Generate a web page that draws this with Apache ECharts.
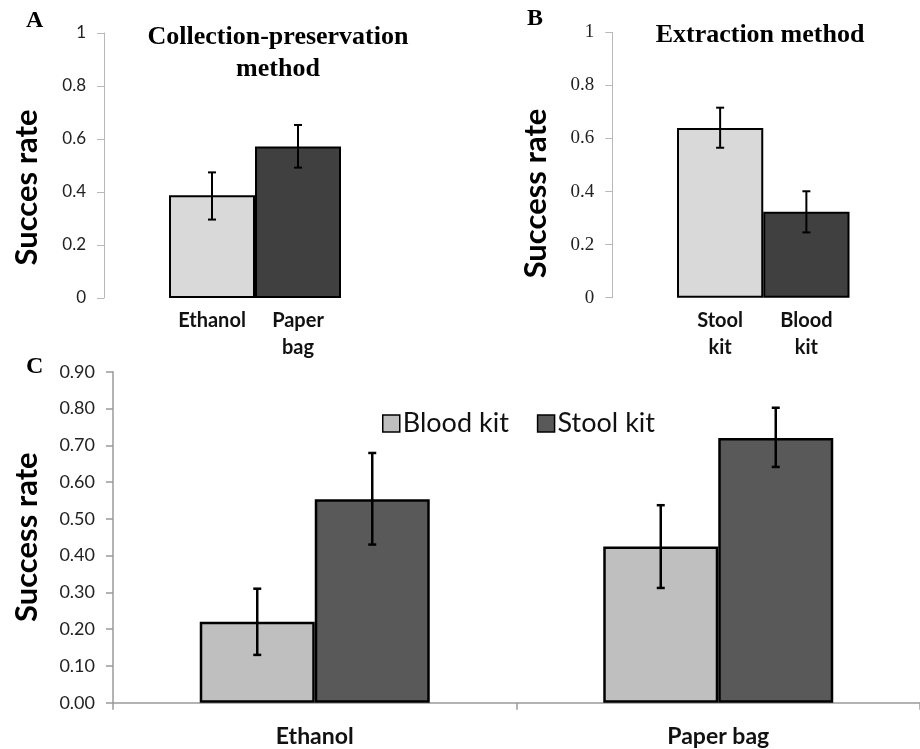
<!DOCTYPE html>
<html><head><meta charset="utf-8">
<script src="https://cdn.jsdelivr.net/npm/echarts@6/dist/echarts.min.js"></script>
<style>html,body{margin:0;padding:0;background:#fff}#c{width:920px;height:749px}</style>
</head><body><div id="c"></div>
<script>
// Panel A
const catsA = ['Ethanol', 'Paper bag'];
const valsA = [0.388, 0.572];
const lowA = [0.296, 0.492];
const highA = [0.474, 0.653];
// Panel B
const catsB = ['Stool kit', 'Blood kit'];
const valsB = [0.639, 0.324];
const lowB = [0.565, 0.246];
const highB = [0.716, 0.401];
// Panel C
const catsC = ['Ethanol', 'Paper bag'];
const bloodC = [0.220, 0.425];
const bloodLowC = [0.130, 0.312];
const bloodHighC = [0.310, 0.537];
const stoolC = [0.553, 0.720];
const stoolLowC = [0.430, 0.641];
const stoolHighC = [0.679, 0.802];

const LIGHT = '#d9d9d9', DARK = '#404040';
const C_BLOOD = '#bfbfbf', C_STOOL = '#595959';
const SANS = 'Lato', SERIF = 'Liberation Serif';
const GAP_C = 0.43;

function errSeries(xi, yi, lows, highs, sign, grouped, w) {
  return {
    type: 'custom', xAxisIndex: xi, yAxisIndex: yi, z: 10, silent: true,
    encode: { x: 0, y: [1, 2] },
    data: lows.map((l, i) => [i, l, highs[i]]),
    renderItem: function (params, api) {
      const idx = api.value(0);
      const lo = api.coord([idx, api.value(1)]);
      const hi = api.coord([idx, api.value(2)]);
      let x = lo[0];
      if (grouped) {
        const band = api.size([1, 0])[0];
        const bw = band * (1 - GAP_C) / 2;
        x += sign * bw / 2;
      }
      const cap = 4;
      const st = { stroke: '#000', lineWidth: w };
      return { type: 'group', children: [
        { type: 'line', shape: { x1: x, y1: hi[1], x2: x, y2: lo[1] }, style: st },
        { type: 'line', shape: { x1: x - cap, y1: hi[1], x2: x + cap, y2: hi[1] }, style: st },
        { type: 'line', shape: { x1: x - cap, y1: lo[1], x2: x + cap, y2: lo[1] }, style: st }
      ]};
    }
  };
}

const chart = echarts.init(document.getElementById('c'), null, { renderer: 'canvas' });
const yAB = (gi, offset, nameGap, name, labelFont, labelSize, namePad) => ({
  gridIndex: gi, type: 'value', min: 0, max: 1, interval: 0.2, offset: offset,
  name: name, nameLocation: 'middle', nameGap: nameGap,
  nameTextStyle: { fontFamily: SANS, fontWeight: 'bold', fontSize: 31, color: '#000', padding: [0, namePad, 0, 0] },
  axisLine: { show: true, lineStyle: { color: '#b8b8b8', width: 1 } },
  axisTick: { show: true, length: 7, lineStyle: { color: '#b8b8b8' } },
  axisLabel: { fontFamily: labelFont, fontSize: labelSize, color: '#222', margin: 18 },
  splitLine: { show: false }
});
const xAB = (gi, cats) => ({
  gridIndex: gi, type: 'category', data: cats,
  axisLine: { show: false }, axisTick: { show: false },
  axisLabel: { interval: 0, fontFamily: SANS, fontWeight: 'bold', fontSize: 20, color: '#111', margin: 9, lineHeight: 27,
    formatter: v => v.replace(' ', '\n') }
});
const letter = { fontFamily: SERIF, fontWeight: 'bold', fontSize: 24, color: '#000' };

chart.setOption({
  animation: false,
  title: [
    { text: 'A', left: 26, top: 9, padding: 0, textStyle: letter },
    { text: 'B', left: 527, top: 7, padding: 0, textStyle: letter },
    { text: 'C', left: 26, top: 355, padding: 0, textStyle: letter },
    { text: 'Collection-preservation\nmethod', left: 278, top: 21, padding: 0, textAlign: 'center',
      textStyle: { fontFamily: SERIF, fontWeight: 'bold', fontSize: 26, lineHeight: 32, color: '#000' } },
    { text: 'Extraction method', left: 760, top: 22, padding: 0, textAlign: 'center',
      textStyle: { fontFamily: SERIF, fontWeight: 'bold', fontSize: 26, color: '#000' } }
  ],
  legend: {
    left: 377, top: 405, itemWidth: 17, itemHeight: 17, itemGap: 28, icon: 'rect',
    textStyle: { fontFamily: SANS, fontSize: 27, color: '#111', padding: [0, 0, 0, -2] },
    data: [
      { name: 'Blood kit', itemStyle: { color: C_BLOOD, borderColor: '#000', borderWidth: 1.5 } },
      { name: 'Stool kit', itemStyle: { color: C_STOOL, borderColor: '#000', borderWidth: 1.5 } }
    ]
  },
  grid: [
    { left: 169, width: 172, top: 33, height: 265 },
    { left: 677, width: 172.5, top: 32.3, height: 265.4 },
    { left: 113, right: -6, top: 371.7, height: 331 }
  ],
  xAxis: [
    xAB(0, catsA),
    xAB(1, catsB),
    { gridIndex: 2, type: 'category', data: catsC,
      axisLine: { show: true, lineStyle: { color: '#9a9a9a', width: 1.5 } },
      axisTick: { show: true, length: 7, lineStyle: { color: '#9a9a9a', width: 1.5 } },
      axisLabel: { interval: 0, fontFamily: SANS, fontWeight: 'bold', fontSize: 23, color: '#111', margin: 22 } }
  ],
  yAxis: [
    yAB(0, 65, 62, 'Succes rate', SANS, 17, 44),
    yAB(1, 64.7, 61, 'Success rate', SERIF, 19, 57),
    { gridIndex: 2, type: 'value', min: 0, max: 0.9, interval: 0.1,
      name: 'Success rate', nameLocation: 'middle', nameGap: 71,
      nameTextStyle: { fontFamily: SANS, fontWeight: 'bold', fontSize: 31, color: '#000' },
      axisLine: { show: true, lineStyle: { color: '#9a9a9a', width: 1.5 } },
      axisTick: { show: true, length: 7, lineStyle: { color: '#9a9a9a', width: 1.5 } },
      axisLabel: { fontFamily: SANS, fontSize: 18, color: '#222', margin: 18, formatter: v => v.toFixed(2) },
      splitLine: { show: false } }
  ],
  series: [
    { type: 'bar', xAxisIndex: 0, yAxisIndex: 0, barCategoryGap: '0%',
      data: valsA.map((v, i) => ({ value: v, itemStyle: { color: i === 0 ? LIGHT : DARK } })),
      itemStyle: { borderColor: '#000', borderWidth: 2 } },
    errSeries(0, 0, lowA, highA, 0, false, 2),
    { type: 'bar', xAxisIndex: 1, yAxisIndex: 1, barCategoryGap: '0%',
      data: valsB.map((v, i) => ({ value: v, itemStyle: { color: i === 0 ? LIGHT : DARK } })),
      itemStyle: { borderColor: '#000', borderWidth: 2 } },
    errSeries(1, 1, lowB, highB, 0, false, 2),
    { name: 'Blood kit', type: 'bar', xAxisIndex: 2, yAxisIndex: 2, barGap: '0%', barCategoryGap: (GAP_C * 100) + '%',
      data: bloodC, itemStyle: { color: C_BLOOD, borderColor: '#000', borderWidth: 2.5 } },
    { name: 'Stool kit', type: 'bar', xAxisIndex: 2, yAxisIndex: 2, barGap: '0%', barCategoryGap: (GAP_C * 100) + '%',
      data: stoolC, itemStyle: { color: C_STOOL, borderColor: '#000', borderWidth: 2.5 } },
    errSeries(2, 2, bloodLowC, bloodHighC, -1, true, 2.5),
    errSeries(2, 2, stoolLowC, stoolHighC, 1, true, 2.5)
  ]
});
</script></body></html>
